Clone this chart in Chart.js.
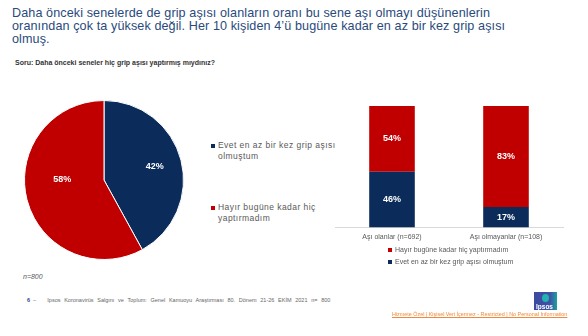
<!DOCTYPE html>
<html lang="tr">
<head>
<meta charset="utf-8">
<script src="https://cdn.jsdelivr.net/npm/chart.js@4.4.1/dist/chart.umd.min.js"></script>
<style>
  html, body { margin: 0; padding: 0; background: #fff; }
  body { width: 588px; height: 336px; position: relative; overflow: hidden; font-family: "Liberation Sans", Arial, sans-serif; }
  .abs { position: absolute; white-space: nowrap; }
  #title { left: 12px; top: 7px; font-size: 12.6px; line-height: 12.8px; color: #2a4a7c; letter-spacing: 0.1px; }
  #soru { left: 15px; top: 59px; font-size: 7px; font-weight: bold; color: #333; }
  #pieWrap { left: 24px; top: 100px; width: 160px; height: 160px; }
  #barWrap { left: 330px; top: 100px; width: 238px; height: 146px; }
  .leg { font-size: 8.5px; line-height: 10.5px; color: #595959; letter-spacing: 0.45px; }
  .leg i { position: absolute; left: -7px; top: 3.5px; width: 4px; height: 4px; }
  .bleg { font-size: 7px; line-height: 9px; color: #595959; }
  .bleg i { position: absolute; left: -7px; top: 2.5px; width: 4px; height: 4px; }
  #n { left: 23px; top: 273px; font-size: 7px; font-style: italic; color: #595959; }
  #foot { left: 27px; top: 297px; font-size: 5.5px; color: #666; word-spacing: 2.2px; }
  #foot b { color: #2a3f8f; font-weight: bold; margin-right: 3px; }
  #logo { left: 534px; top: 292px; width: 23px; height: 18px; background: linear-gradient(90deg, #3b4a9e 0%, #3f52a6 70%, #19a3a0 100%); }
  #logo span { position: absolute; left: 2px; bottom: 0px; font-size: 6.5px; color: #fff; font-weight: bold; }
  #logo em { position: absolute; left: 8px; top: 2px; width: 7px; height: 8px; border-radius: 50%; background: #22b2b0; }
  #restr { left: 392px; top: 311px; font-size: 5.4px; color: #f0883a; text-decoration: underline; }
</style>
</head>
<body>
<div id="title" class="abs">Daha önceki senelerde de grip aşısı olanların oranı bu sene aşı olmayı düşünenlerin<br>oranından çok ta yüksek değil. Her 10 kişiden 4’ü bugüne kadar en az bir kez grip aşısı<br>olmuş.</div>
<div id="soru" class="abs">Soru: Daha önceki seneler hiç grip aşısı yaptırmış mıydınız?</div>

<div id="pieWrap" class="abs"><canvas id="pie"></canvas></div>
<div class="abs leg" style="left:218px; top:140px;"><i style="background:#0b2c5a"></i>Evet en az bir kez grip aşısı<br>olmuştum</div>
<div class="abs leg" style="left:218px; top:202px;"><i style="background:#c00000"></i>Hayır bugüne kadar hiç<br>yaptırmadım</div>

<div id="barWrap" class="abs"><canvas id="bar"></canvas></div>
<div class="abs bleg" style="left:395px; top:245px;"><i style="background:#c00000"></i>Hayır bugüne kadar hiç yaptırmadım</div>
<div class="abs bleg" style="left:395px; top:257px;"><i style="background:#0b2c5a"></i>Evet en az bir kez grip aşısı olmuştum</div>

<div id="n" class="abs">n=800</div>
<div id="foot" class="abs"><b>6</b>–&nbsp;&nbsp; Ipsos Koronavirüs  Salgını ve Toplum:  Genel Kamuoyu Araştırması 80. Dönem  21-26  EKİM  2021   n= 800</div>
<div id="logo" class="abs"><em></em><span>Ipsos</span></div>
<div id="restr" class="abs">Hizmete Özel | Kişisel Veri İçermez - Restricted | No Personal Information</div>

<script>
const BLUE = '#0b2c5a';
const RED = '#c00000';

// pie: overall answer split
const pieLabels = ['Evet en az bir kez grip aşısı olmuştum', 'Hayır bugüne kadar hiç yaptırmadım'];
const pieValues = [42, 58];

// stacked bars: split by this year's vaccination intent
const groups = ['Aşı olanlar (n=692)', 'Aşı olmayanlar (n=108)'];
const evetValues = [46, 17];
const hayirValues = [54, 83];

// writes "NN%" in white on top of each slice / bar segment
const pctLabels = {
  id: 'pctLabels',
  afterDatasetsDraw(chart, args, opts) {
    const ctx = chart.ctx;
    ctx.save();
    ctx.fillStyle = '#fff';
    ctx.font = 'bold ' + opts.size + 'px "Liberation Sans", Arial, sans-serif';
    ctx.textAlign = 'center';
    ctx.textBaseline = 'middle';
    chart.data.datasets.forEach((ds, di) => {
      chart.getDatasetMeta(di).data.forEach((el, i) => {
        let x, y;
        if (chart.config.type === 'pie') {
          const p = el.getProps(['x', 'y', 'startAngle', 'endAngle', 'outerRadius'], true);
          const mid = (p.startAngle + p.endAngle) / 2;
          const r = p.outerRadius * opts.radius;
          const nudge = (opts.nudge && opts.nudge[i]) || [0, 0];
          x = p.x + Math.cos(mid) * r + nudge[0];
          y = p.y + Math.sin(mid) * r + nudge[1];
        } else {
          const p = el.getProps(['x', 'y', 'base'], true);
          x = p.x;
          y = (p.y + p.base) / 2;
        }
        ctx.fillText(ds.data[i] + '%', x, y);
      });
    });
    ctx.restore();
  }
};

new Chart(document.getElementById('pie'), {
  type: 'pie',
  data: {
    labels: pieLabels,
    datasets: [{
      data: pieValues,
      backgroundColor: [BLUE, RED],
      borderColor: '#fff',
      borderWidth: 1
    }]
  },
  options: {
    responsive: true,
    maintainAspectRatio: false,
    animation: false,
    layout: { padding: 0 },
    plugins: {
      legend: { display: false },
      tooltip: { enabled: false },
      pctLabels: { size: 9, radius: 0.66, nudge: [[0, 0], [9, -14]] }
    }
  },
  plugins: [pctLabels]
});

new Chart(document.getElementById('bar'), {
  type: 'bar',
  data: {
    labels: groups,
    datasets: [
      { label: 'Evet en az bir kez grip aşısı olmuştum', data: evetValues, backgroundColor: BLUE },
      { label: 'Hayır bugüne kadar hiç yaptırmadım', data: hayirValues, backgroundColor: RED }
    ]
  },
  options: {
    responsive: true,
    maintainAspectRatio: false,
    animation: false,
    layout: { padding: { top: 6, left: 5, right: 5, bottom: 0 } },
    datasets: { bar: { categoryPercentage: 1, barPercentage: 0.4 } },
    scales: {
      x: {
        stacked: true,
        grid: { display: false, drawTicks: false },
        border: { display: true, color: '#d9d9d9', width: 1 },
        ticks: { color: '#595959', padding: 5, font: { size: 7, family: '"Liberation Sans", Arial, sans-serif' } }
      },
      y: {
        stacked: true,
        display: false,
        min: 0,
        max: 100
      }
    },
    plugins: {
      legend: { display: false },
      tooltip: { enabled: false },
      pctLabels: { size: 9 }
    }
  },
  plugins: [pctLabels]
});
</script>
</body>
</html>
